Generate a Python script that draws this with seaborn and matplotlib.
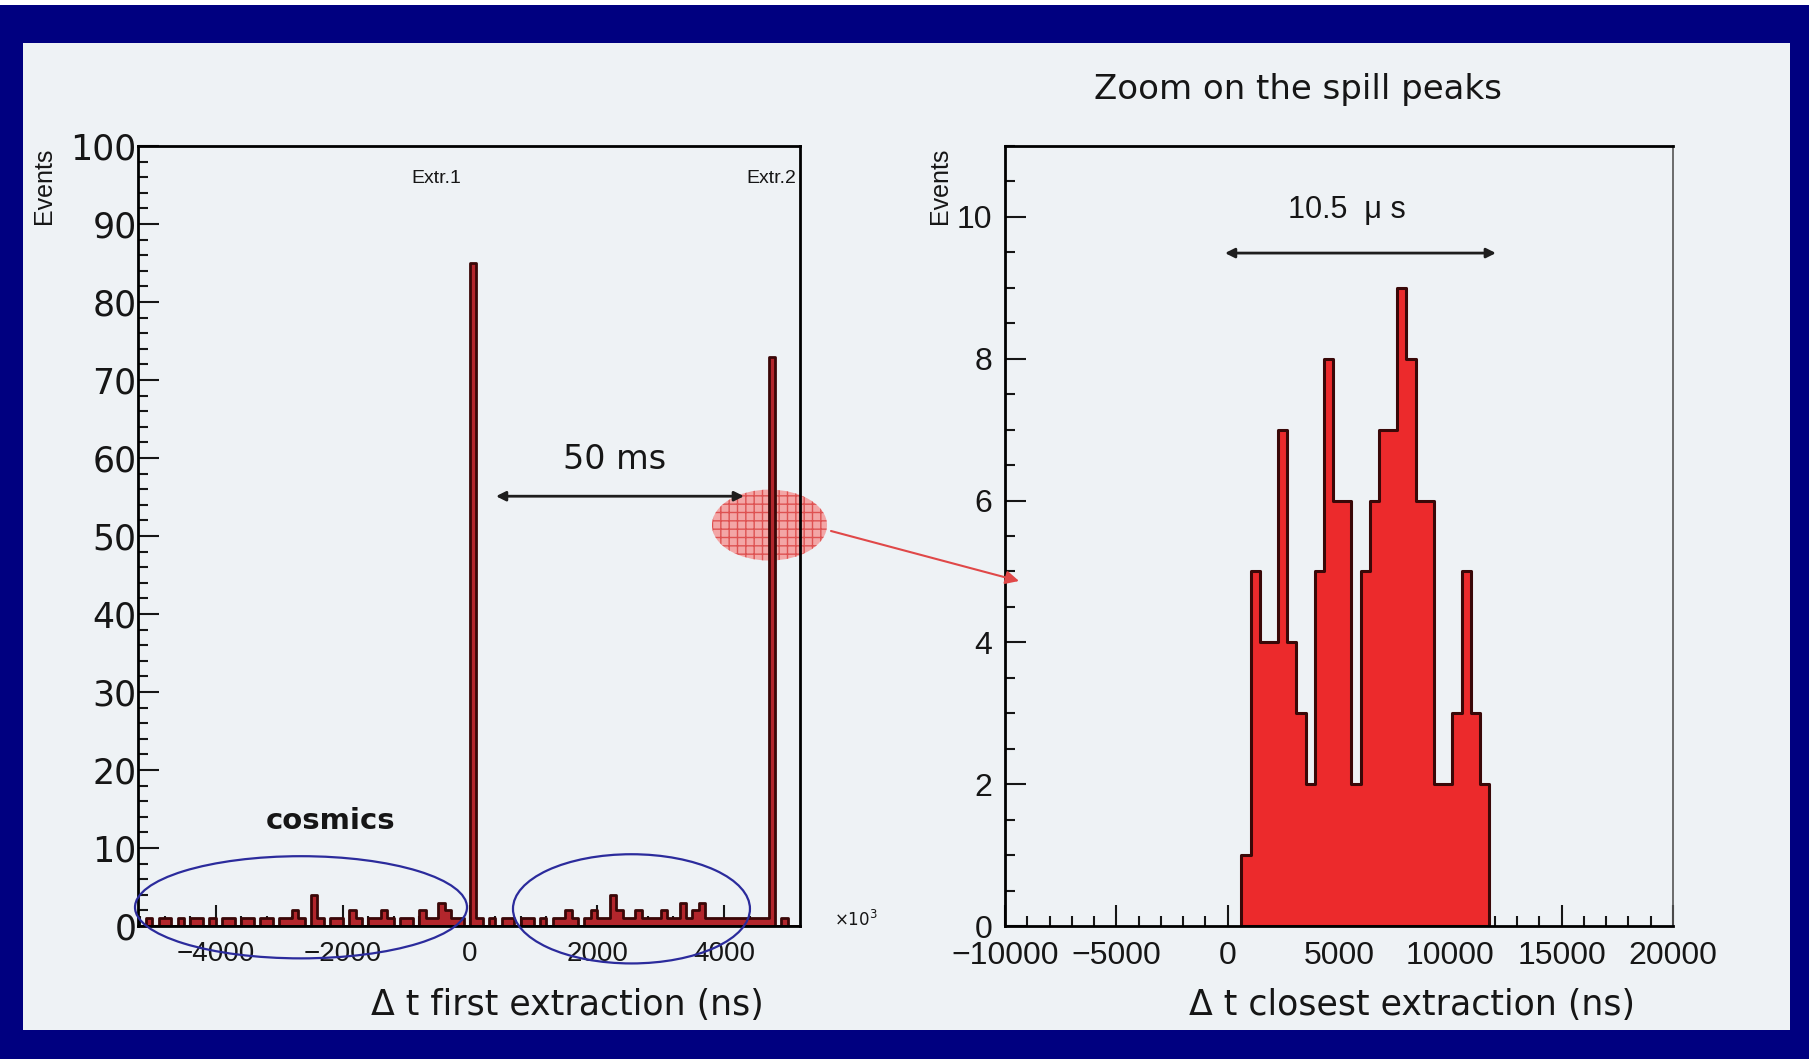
import numpy as np
import pandas as pd
import matplotlib.pyplot as plt
import seaborn as sns
from matplotlib.patches import Ellipse, Rectangle, FancyArrowPatch
from matplotlib.ticker import MultipleLocator

# Left panel: events per bin of the time to the first extraction (x10^3 ns)
first_bin_start = -5200
first_bin_width = 100
first_counts = [0, 1, 0, 1, 1, 0, 1, 0, 1, 1,
                0, 1, 0, 1, 1, 0, 1, 1, 0, 1,
                1, 0, 1, 1, 2, 1, 0, 4, 1, 0,
                1, 1, 0, 2, 1, 0, 1, 1, 2, 1,
                0, 1, 1, 0, 2, 1, 1, 3, 2, 1,
                1, 0,
                85,
                1, 0, 1, 0, 1, 1, 0,
                1, 1, 0, 1, 0, 1, 1, 2, 1, 0,
                1, 2, 1, 1, 4, 2, 1, 1, 2, 1,
                1, 1, 2, 1, 1, 3, 1, 2, 3, 1,
                1, 1, 1, 1, 1, 1, 1, 1, 1,
                73,
                0, 1, 0, 0]
first_xticks = [-4000, -2000, 0, 2000, 4000]

# Right panel: events per bin of the time to the closest extraction (ns)
spill_bin_start = 615
spill_bin_width = 412
spill_counts = [1, 5, 4, 4, 7, 4, 3, 2, 5, 8, 6, 6, 2, 5, 6, 7, 7, 9, 8, 6,
                6, 2, 2, 3, 5, 3, 2]
spill_xticks = [-10000, -5000, 0, 5000, 10000, 15000, 20000]
spill_yticks = [0, 2, 4, 6, 8, 10]

NAVY = "#000080"
PANEL = "#eef2f5"
INK = "#161616"
WIDE = ["DejaVu Sans"]

sns.set_style("ticks")
plt.rcParams["font.family"] = ["Liberation Sans", "DejaVu Sans"]
plt.rcParams["hatch.linewidth"] = 1.0

fig = plt.figure(figsize=(18.09, 10.59), dpi=100, facecolor=NAVY)
W, H = 1809, 1059


def fx(px):
    return px / W


def fy(py):
    return 1 - py / H


# light slide panel inside the navy frame
fig.add_artist(Rectangle((fx(23), fy(1030)), fx(1790 - 23), (1030 - 43) / H,
                         transform=fig.transFigure, facecolor=PANEL,
                         edgecolor="none", zorder=-2))
fig.add_artist(Rectangle((0, fy(5)), 1, 5 / H, transform=fig.transFigure,
                         facecolor="white", edgecolor="none", zorder=-2))

ax1 = fig.add_axes([fx(138), fy(926), fx(800 - 138), (926 - 146) / H])
ax2 = fig.add_axes([fx(1005), fy(926), fx(1673 - 1005), (926 - 146) / H])

# ---- left: all events vs first extraction ----
n1 = len(first_counts)
first_df = pd.DataFrame({
    "t": first_bin_start + first_bin_width * (np.arange(n1) + 0.5),
    "n": first_counts,
})
edges1 = (first_bin_start + first_bin_width * np.arange(n1 + 1)).tolist()
sns.histplot(data=first_df, x="t", weights="n", bins=edges1, element="step",
             fill=True, color="#b3262c", edgecolor="#3a0707", linewidth=2.0,
             alpha=1, ax=ax1)
ax1.set_xlim(-5224, 5193)
ax1.set_ylim(0, 100)
ax1.set_xticks(first_xticks)
ax1.xaxis.set_minor_locator(MultipleLocator(400))
ax1.yaxis.set_major_locator(MultipleLocator(10))
ax1.yaxis.set_minor_locator(MultipleLocator(2))
ax1.tick_params(axis="y", which="major", labelsize=25, pad=1)
ax1.tick_params(axis="x", which="major", labelsize=20, pad=11)
for lab in ax1.get_yticklabels():
    lab.set_family(WIDE)

# ---- right: zoom on the spill peaks ----
n2 = len(spill_counts)
spill_df = pd.DataFrame({
    "t": spill_bin_start + spill_bin_width * (np.arange(n2) + 0.5),
    "n": spill_counts,
})
edges2 = (spill_bin_start + spill_bin_width * np.arange(n2 + 1)).tolist()
sns.histplot(data=spill_df, x="t", weights="n", bins=edges2, element="step",
             fill=True, color="#ec2a2c", edgecolor="#3a0808", linewidth=2.2,
             alpha=1, ax=ax2)
ax2.set_xlim(-10000, 20000)
ax2.set_ylim(0, 11)
ax2.set_xticks(spill_xticks)
ax2.set_yticks(spill_yticks)
ax2.xaxis.set_minor_locator(MultipleLocator(1000))
ax2.yaxis.set_minor_locator(MultipleLocator(0.5))
ax2.tick_params(axis="y", which="major", labelsize=23, pad=9)
ax2.tick_params(axis="x", which="major", labelsize=23, pad=11)

for ax in (ax1, ax2):
    ax.set_facecolor(PANEL)
    ax.set_xlabel("")
    ax.set_ylabel("")
    ax.tick_params(which="both", direction="in", colors=INK, width=1.5,
                   top=False, right=False)
    ax.tick_params(which="major", length=15)
    ax.tick_params(which="minor", length=7.5)
    for side in ("left", "bottom", "top", "right"):
        ax.spines[side].set_visible(True)
        ax.spines[side].set_color("black")
        ax.spines[side].set_linewidth(2.0)
ax2.spines["right"].set_color("#555555")
ax2.spines["right"].set_linewidth(1.2)

# ---- annotations, left ----
ax1.text(-535, 95.8, "Extr.1", ha="center", va="center", fontsize=14, color=INK)
ax1.text(4736, 95.8, "Extr.2", ha="center", va="center", fontsize=14, color=INK)
ax1.text(2282, 59.8, "50 ms", ha="center", va="center", fontsize=24,
         color=INK, family=WIDE)
ax1.annotate("", xy=(4311, 55.1), xytext=(409, 55.1),
             arrowprops=dict(arrowstyle="<|-|>", color="#1e1e1e", lw=2,
                             mutation_scale=14, shrinkA=0, shrinkB=0))
ax1.add_patch(Ellipse((4713, 51.4), 1810, 9.1, facecolor="#f3a6a6",
                      edgecolor="#de5252", hatch="++", lw=0, zorder=0.8,
                      clip_on=False))
ax1.text(-2187, 13.5, "cosmics", ha="center", va="center", fontsize=21,
         fontweight="bold", color=INK, family=WIDE)
ax1.add_patch(Ellipse((-2659, 2.4), 5224, 13.1, fill=False,
                      edgecolor="#2b2b9c", lw=1.6, clip_on=False, zorder=3))
ax1.add_patch(Ellipse((2541, 2.2), 3729, 14.0, fill=False,
                      edgecolor="#2b2b9c", lw=1.6, clip_on=False, zorder=3))
fig.add_artist(FancyArrowPatch((fx(831), fy(531)), (fx(1019), fy(581)),
                               transform=fig.transFigure, arrowstyle="-|>",
                               color="#e04848", lw=1.5, mutation_scale=20,
                               shrinkA=0, shrinkB=0, zorder=5))
fig.text(fx(856), fy(919), r"$\times10^{3}$", fontsize=12, color=INK,
         ha="center", va="center")

# ---- annotations, right ----
ax2.text(5357, 10.1, "10.5  \u03bc s", ha="center", va="center", fontsize=22,
         color=INK)
ax2.annotate("", xy=(12047, 9.49), xytext=(-121, 9.49),
             arrowprops=dict(arrowstyle="<|-|>", color="#1e1e1e", lw=2,
                             mutation_scale=14, shrinkA=0, shrinkB=0))
fig.text(fx(1298), fy(90), "Zoom on the spill peaks", ha="center",
         va="center", fontsize=24.5, color=INK, family=WIDE)

# ---- axis titles (ROOT style: right / top aligned) ----
fig.text(fx(764), fy(1005), "\u0394 t first extraction (ns)", ha="right",
         va="center", fontsize=25, color=INK, family=WIDE)
fig.text(fx(1635), fy(1005), "\u0394 t closest extraction (ns)", ha="right",
         va="center", fontsize=25, color=INK, family=WIDE)
fig.text(fx(44), fy(148), "Events", rotation=90, ha="center", va="top",
         fontsize=18, color=INK)
fig.text(fx(940), fy(148), "Events", rotation=90, ha="center", va="top",
         fontsize=18, color=INK)

fig.savefig("out.png", dpi=100, facecolor=fig.get_facecolor())
